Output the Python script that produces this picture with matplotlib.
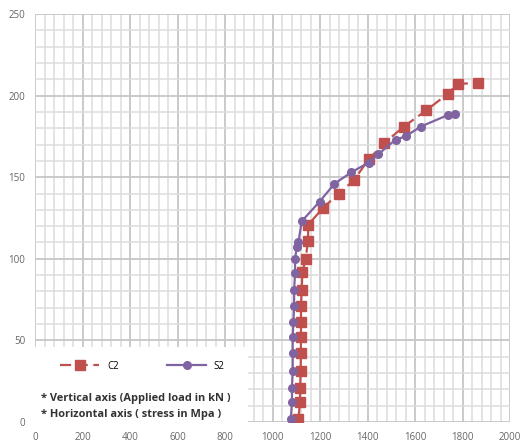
import matplotlib
matplotlib.use("Agg")
import matplotlib.pyplot as plt
from matplotlib.patches import Rectangle
from matplotlib.ticker import MultipleLocator

# Load (kN) vs stress (MPa) readings for the two specimens
c2_stress = [1109, 1116, 1116, 1119, 1119, 1120, 1120, 1120, 1123, 1126, 1140,
             1149, 1151, 1212, 1278, 1342, 1405, 1471, 1553, 1648, 1737, 1779, 1866]
c2_load = [2, 12, 21, 31, 42, 52, 61, 71, 81, 92, 100,
           111, 121, 131, 140, 148, 161, 171, 181, 191, 201, 207, 208]

s2_stress = [1077, 1082, 1082, 1085, 1085, 1085, 1088, 1091, 1091, 1095, 1095,
             1102, 1109, 1123, 1198, 1261, 1332, 1405, 1445, 1518, 1560, 1624, 1737, 1767]
s2_load = [2, 12, 21, 31, 42, 52, 61, 71, 81, 91, 100,
           107, 110, 123, 135, 146, 153, 159, 164, 173, 175, 181, 188, 189]

notes = ["* Vertical axis (Applied load in kN )", "* Horizontal axis ( stress in Mpa )"]

plt.rcParams["font.family"] = ["Open Sans", "DejaVu Sans"]

fig = plt.figure(figsize=(5.23, 4.48), dpi=100)
ax = fig.add_axes([35 / 523, 26 / 448, 475 / 523, 408 / 448])

ax.set_xlim(0, 2000)
ax.set_ylim(0, 250)
ax.xaxis.set_major_locator(MultipleLocator(200))
ax.xaxis.set_minor_locator(MultipleLocator(40))
ax.yaxis.set_major_locator(MultipleLocator(50))
ax.yaxis.set_minor_locator(MultipleLocator(10))
ax.grid(which="minor", color="#dddddd", linewidth=1.1)
ax.grid(which="major", color="#c6c6c6", linewidth=1.3)
ax.set_axisbelow(True)
for sp in ax.spines.values():
    sp.set_visible(False)
ax.tick_params(which="both", length=0, labelsize=7, labelcolor="#666666", pad=7)

# white block behind the legend and notes
ax.add_patch(Rectangle((-0.01, -0.025), 0.458, 0.21, transform=ax.transAxes,
                       facecolor="white", edgecolor="none", zorder=1.5, clip_on=False))

ax.plot(c2_stress, c2_load, color="#c0504d", linestyle=(0, (5, 2.5)), linewidth=1.6,
        marker="s", markersize=6.5, label="C2", zorder=3)
ax.plot(s2_stress, s2_load, color="#8064a2", linestyle="-", linewidth=1.6,
        marker="o", markersize=5.5, label="S2", zorder=4)

ax.legend(loc="center left", bbox_to_anchor=(0.035, 0.137), ncol=2, frameon=False,
          fontsize=7, handlelength=4.0, columnspacing=5.0, handletextpad=0.8)

ax.text(0.012, 0.057, notes[0], transform=ax.transAxes, fontsize=7.9,
        fontweight="bold", color="#333333", va="center", zorder=5)
ax.text(0.012, 0.018, notes[1], transform=ax.transAxes, fontsize=7.9,
        fontweight="bold", color="#333333", va="center", zorder=5)

fig.savefig("out.png", dpi=100)
